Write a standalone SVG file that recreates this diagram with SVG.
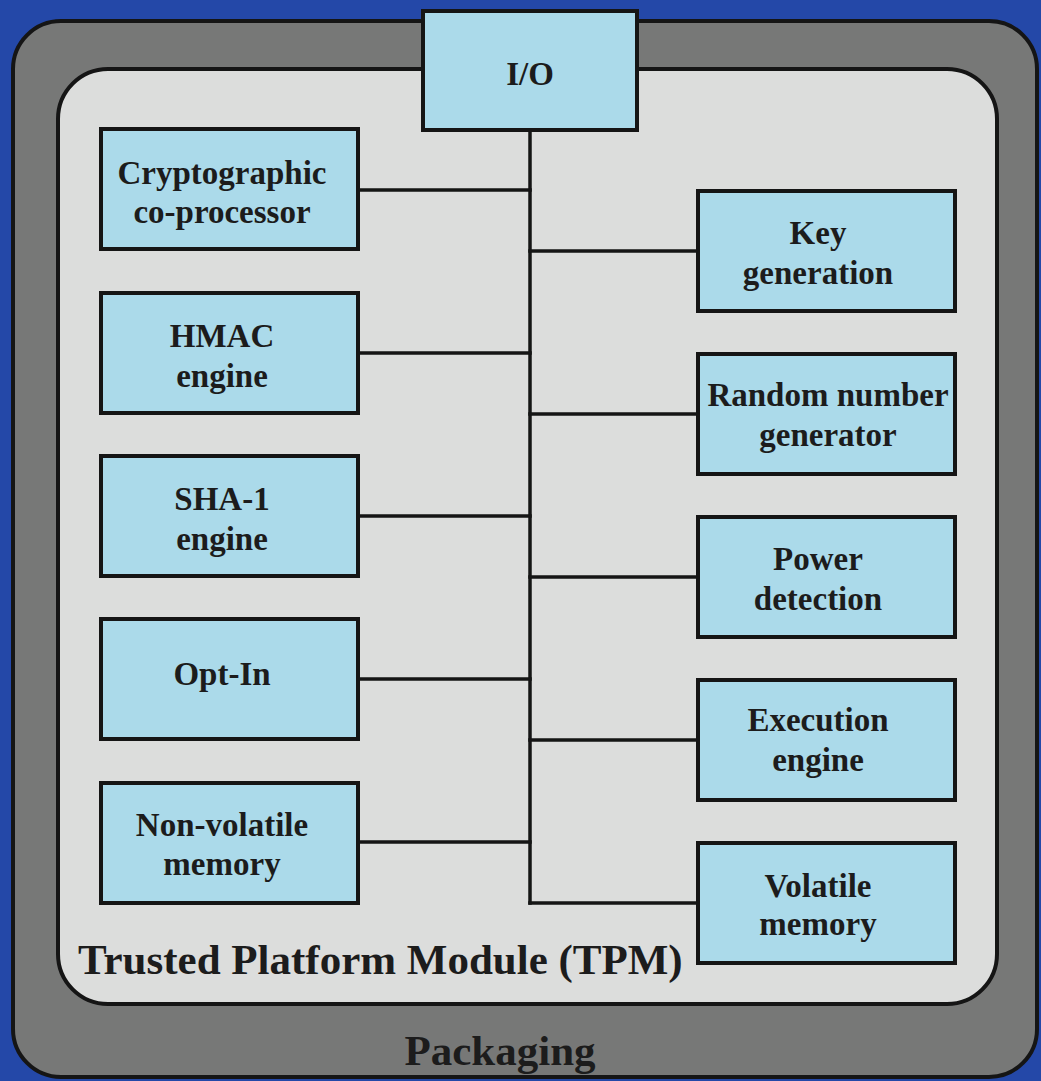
<svg xmlns="http://www.w3.org/2000/svg" width="1041" height="1081" viewBox="0 0 1041 1081">
  <style>
    .pkg { fill: #777877; stroke: #151515; stroke-width: 4; }
    .tpm { fill: #dcdddc; stroke: #151515; stroke-width: 4; }
    .box { fill: #abdaea; stroke: #151515; stroke-width: 4; }
    .wire { stroke: #151515; stroke-width: 3.5; fill: none; stroke-linecap: square; }
    text { font-family: "Liberation Serif", "Times New Roman", serif; font-weight: bold; fill: #1c1c1c; }
    .lbl { font-size: 33px; text-anchor: middle; }
    .big { font-size: 43px; }
  </style>

  <!-- background -->
  <rect x="0" y="0" width="1041" height="1081" fill="#2448a8"/>

  <!-- packaging shell -->
  <g id="packaging">
    <rect class="pkg" x="13" y="21" width="1024" height="1056" rx="48" ry="48"/>
    <text class="big" x="500" y="1065" text-anchor="middle">Packaging</text>
  </g>

  <!-- TPM body -->
  <g id="tpm">
    <rect class="tpm" x="58" y="69" width="939" height="935" rx="50" ry="50"/>
    <text class="big" x="78" y="974">Trusted Platform Module (TPM)</text>
  </g>

  <!-- internal bus -->
  <g id="connectors">
    <line class="wire" x1="530" y1="130" x2="530" y2="903"/>
    <line class="wire" x1="359" y1="190" x2="530" y2="190"/>
    <line class="wire" x1="359" y1="353" x2="530" y2="353"/>
    <line class="wire" x1="359" y1="516" x2="530" y2="516"/>
    <line class="wire" x1="359" y1="679" x2="530" y2="679"/>
    <line class="wire" x1="359" y1="842" x2="530" y2="842"/>
    <line class="wire" x1="530" y1="251" x2="697" y2="251"/>
    <line class="wire" x1="530" y1="414" x2="697" y2="414"/>
    <line class="wire" x1="530" y1="577" x2="697" y2="577"/>
    <line class="wire" x1="530" y1="740" x2="697" y2="740"/>
    <line class="wire" x1="530" y1="903" x2="697" y2="903"/>
  </g>

  <g id="io">
    <rect class="box" x="423" y="11" width="214" height="119"/>
    <text class="lbl" x="530" y="85">I/O</text>
  </g>

  <!-- left column -->
  <g id="crypto">
    <rect class="box" x="101" y="129" width="257" height="120"/>
    <text class="lbl" x="222" y="184">Cryptographic</text>
    <text class="lbl" x="222" y="223">co-processor</text>
  </g>
  <g id="hmac">
    <rect class="box" x="101" y="293" width="257" height="120"/>
    <text class="lbl" x="222" y="347">HMAC</text>
    <text class="lbl" x="222" y="387">engine</text>
  </g>
  <g id="sha1">
    <rect class="box" x="101" y="456" width="257" height="120"/>
    <text class="lbl" x="222" y="510">SHA-1</text>
    <text class="lbl" x="222" y="550">engine</text>
  </g>
  <g id="optin">
    <rect class="box" x="101" y="619" width="257" height="120"/>
    <text class="lbl" x="222" y="685">Opt-In</text>
  </g>
  <g id="nvmem">
    <rect class="box" x="101" y="783" width="257" height="120"/>
    <text class="lbl" x="222" y="836">Non-volatile</text>
    <text class="lbl" x="222" y="875">memory</text>
  </g>

  <!-- right column -->
  <g id="keygen">
    <rect class="box" x="698" y="191" width="257" height="120"/>
    <text class="lbl" x="818" y="244">Key</text>
    <text class="lbl" x="818" y="284">generation</text>
  </g>
  <g id="rng">
    <rect class="box" x="698" y="354" width="257" height="120"/>
    <text class="lbl" x="828" y="406">Random number</text>
    <text class="lbl" x="828" y="446">generator</text>
  </g>
  <g id="power">
    <rect class="box" x="698" y="517" width="257" height="120"/>
    <text class="lbl" x="818" y="570">Power</text>
    <text class="lbl" x="818" y="610">detection</text>
  </g>
  <g id="exec">
    <rect class="box" x="698" y="680" width="257" height="120"/>
    <text class="lbl" x="818" y="731">Execution</text>
    <text class="lbl" x="818" y="771">engine</text>
  </g>
  <g id="vmem">
    <rect class="box" x="698" y="843" width="257" height="120"/>
    <text class="lbl" x="818" y="897">Volatile</text>
    <text class="lbl" x="818" y="935">memory</text>
  </g>
</svg>
